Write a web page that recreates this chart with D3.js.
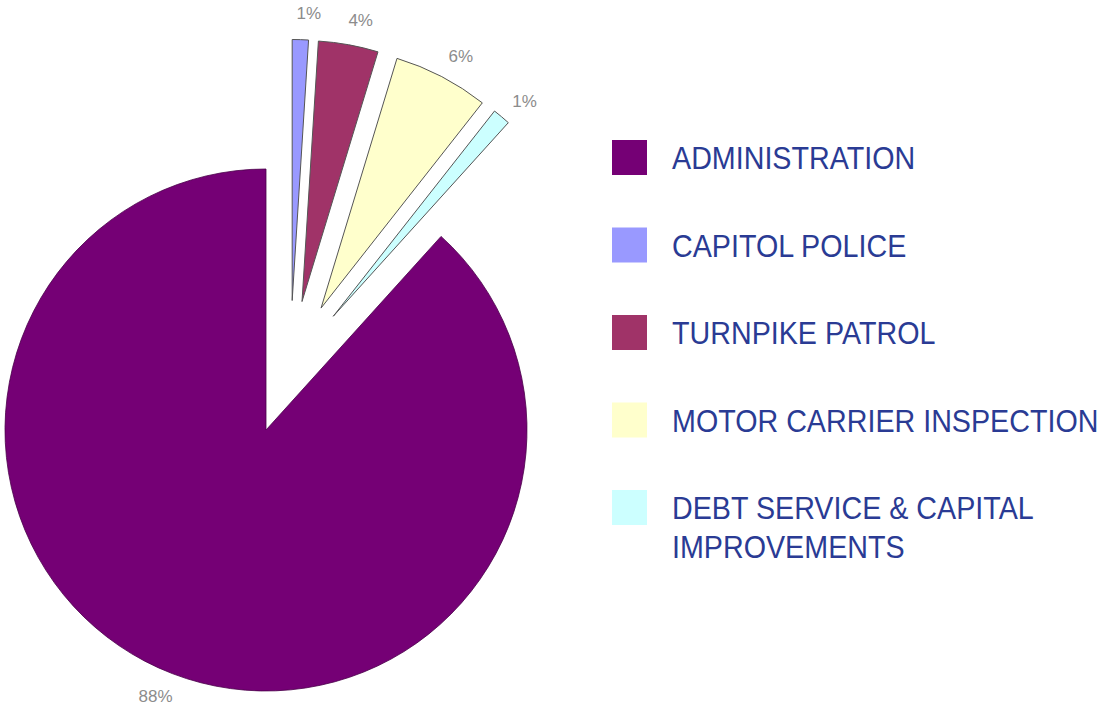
<!DOCTYPE html>
<html>
<head>
<meta charset="utf-8">
<script src="https://cdn.jsdelivr.net/npm/d3@7"></script>
<style>
  body { margin: 0; background: #ffffff; }
  svg { display: block; }
</style>
</head>
<body>
<svg></svg>
<script>
// budget shares, legend order
var categories = ["ADMINISTRATION", "CAPITOL POLICE", "TURNPIKE PATROL",
                  "MOTOR CARRIER INSPECTION", "DEBT SERVICE & CAPITAL IMPROVEMENTS"]
var values = [88.3, 1.0, 3.7, 5.9, 1.1]
var pctLabels = ["88%", "1%", "4%", "6%", "1%"]
var colors = ["#750075", "#9999ff", "#a03368", "#ffffcc", "#ccffff"]
var legendLines = [["ADMINISTRATION"], ["CAPITOL POLICE"], ["TURNPIKE PATROL"],
                   ["MOTOR CARRIER INSPECTION"], ["DEBT SERVICE & CAPITAL", "IMPROVEMENTS"]]

var screen = {width: 1101, height: 712}
var cx = 266, cy = 430, radius = 261
var groupExplode = 67, sliceExplode = 67

var svg = d3.select("svg")
    .attr("width", screen.width)
    .attr("height", screen.height)

var total = d3.sum(values)
var start = 2 * Math.PI * (1 - values[0] / total)

var pie = d3.pie()
    .sort(null)
    .value(function(d){ return d })
    .startAngle(start)
    .endAngle(start + 2 * Math.PI)

var slices = pie(values)

var arc = d3.arc().innerRadius(0).outerRadius(radius)
var labelArc = d3.arc().innerRadius(288).outerRadius(288)
var labelShift = 0.026

// the small slices are pulled out as a group, and each one again on its own
var groupMid = (slices[1].startAngle + slices[slices.length - 1].endAngle) / 2
var offset = function(s, i)
    {
        if (i == 0) return [0, 0]
        var m = (s.startAngle + s.endAngle) / 2
        return [groupExplode * Math.sin(groupMid) + sliceExplode * Math.sin(m),
                -groupExplode * Math.cos(groupMid) - sliceExplode * Math.cos(m)]
    }

var g = svg.append("g").attr("transform", "translate(" + cx + "," + cy + ")")

var sliceG = g.selectAll("g.slice")
    .data(slices)
    .enter()
    .append("g")
    .attr("class", "slice")
    .attr("transform", function(s, i){ var o = offset(s, i); return "translate(" + o[0] + "," + o[1] + ")" })

sliceG.append("path")
    .attr("d", arc)
    .attr("fill", function(s, i){ return colors[i] })
    .attr("stroke", function(s, i){ return i == 0 ? "#4a004a" : "#555555" })
    .attr("stroke-width", function(s, i){ return i == 0 ? 0.8 : 1 })
    .attr("stroke-linejoin", "round")

sliceG.append("text")
    .attr("transform", function(s)
        {
            var c = labelArc.centroid({startAngle: s.startAngle + labelShift, endAngle: s.endAngle + labelShift})
            return "translate(" + c[0] + "," + c[1] + ")"
        })
    .attr("text-anchor", "middle")
    .attr("dy", "0.35em")
    .attr("font-family", "Liberation Sans, Arial, sans-serif")
    .attr("font-size", 17)
    .attr("fill", "#8c8c8c")
    .text(function(s, i){ return pctLabels[i] })

// legend
var legend = svg.append("g")
var rowY = d3.scalePoint().domain(categories).range([157, 507])

var item = legend.selectAll("g.item")
    .data(categories)
    .enter()
    .append("g")
    .attr("class", "item")
    .attr("transform", function(c){ return "translate(612," + rowY(c) + ")" })

item.append("rect")
    .attr("x", 0)
    .attr("y", -17)
    .attr("width", 35)
    .attr("height", 35)
    .attr("fill", function(c, i){ return colors[i] })

item.append("text")
    .attr("transform", "translate(60,12) scale(0.925,1)")
    .attr("font-family", "Liberation Sans, Arial, sans-serif")
    .attr("font-size", 31)
    .attr("fill", "#2a3b94")
    .selectAll("tspan")
    .data(function(c, i){ return legendLines[i] })
    .enter()
    .append("tspan")
    .attr("x", 0)
    .attr("dy", function(l, j){ return j == 0 ? 0 : 39 })
    .text(function(l){ return l })
</script>
</body>
</html>
